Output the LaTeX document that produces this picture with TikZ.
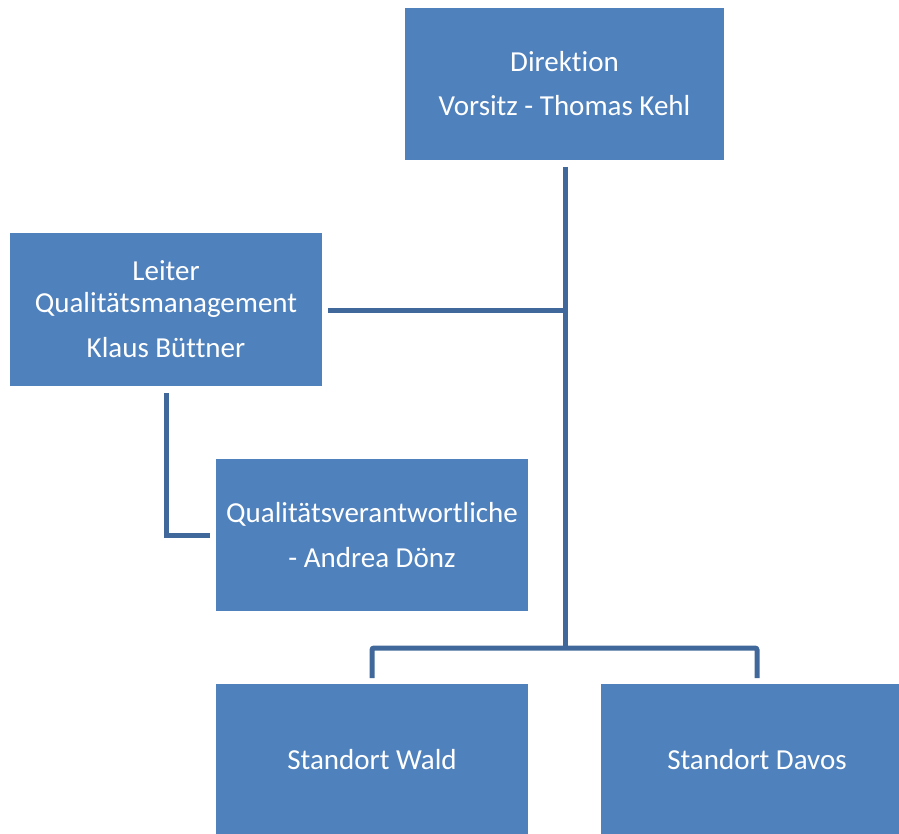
\documentclass[tikz,border=0pt]{standalone}
\usepackage{fontspec}
\setmainfont{Carlito}[Ligatures=NoCommon]
\definecolor{boxfill}{RGB}{79,129,189}
\definecolor{linecol}{RGB}{65,104,154}
\tikzset{
  orgbox/.style={rectangle, fill=boxfill, draw=none, minimum width=312pt, minimum height=152pt,
    inner sep=0pt, text=white, align=center, font=\fontsize{29}{32}\selectfont},
  conn/.style={draw=linecol, line width=5pt}
}
\begin{document}
\begin{tikzpicture}[x=1pt,y=-1pt]
\useasboundingbox (0,0) rectangle (899,834);
\clip (0,0) rectangle (899,834);
\node[orgbox, minimum width=319pt] (dir) at (564.5,84) {Direktion\\[12pt]Vorsitz - Thomas Kehl};
\node[orgbox, minimum height=153pt] (lqm) at (166,309.5) {Leiter\\Qualitätsmanagement\\[13pt]Klaus Büttner};
\node[orgbox] (qv) at (372,535) {Qualitätsverantwortliche\\[13pt]- Andrea Dönz};
\node[orgbox] (wald) at (372,760) {Standort Wald};
\node[orgbox] (davos) at (757,760) {Standort Davos};
\coordinate (bus) at (565,648);
\coordinate (dtop) at (565,167);
\coordinate (lqmr) at (328,310);
\coordinate (lqmb) at (166,393);
\coordinate (qvl) at (210,535);
\coordinate (waldt) at (372,678);
\coordinate (davost) at (757,678);
\draw[conn] (dtop) -- (bus);
\draw[conn] (lqmr) -- (lqmr -| dtop);
\draw[conn] (lqmb) |- (qvl);
\draw[conn, rounded corners=2pt] (waldt) |- (bus) -| (davost);
\end{tikzpicture}
\end{document}
